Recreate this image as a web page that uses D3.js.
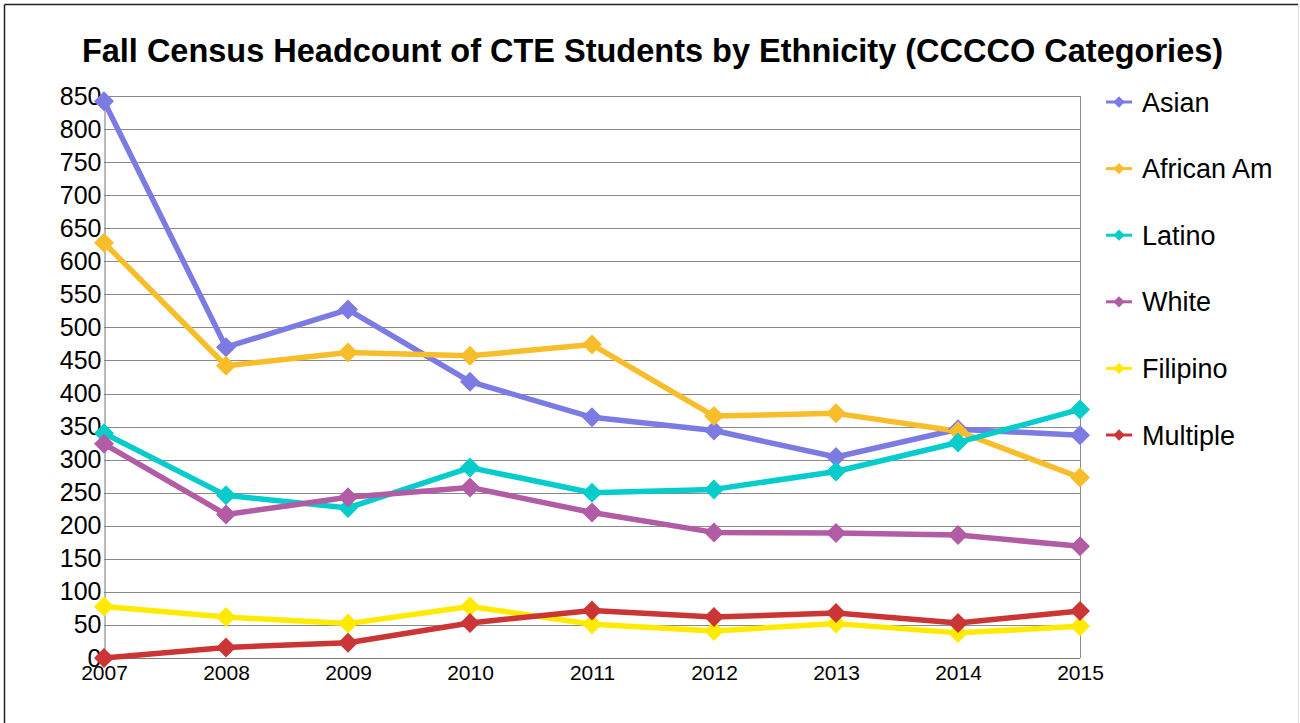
<!DOCTYPE html>
<html>
<head>
<meta charset="utf-8">
<script src="https://cdn.jsdelivr.net/npm/d3@7"></script>
<style>
  html, body { margin: 0; padding: 0; background: #fff; }
  svg { display: block; }
  text { font-family: "Liberation Sans", Arial, sans-serif; }
</style>
</head>
<body>
<svg id="chart" width="1300" height="723"></svg>
<script>
const years = ["2007","2008","2009","2010","2011","2012","2013","2014","2015"];
const yTicks = [0,50,100,150,200,250,300,350,400,450,500,550,600,650,700,750,800,850];
const seriesNames = ["Asian","African Am","Latino","White","Filipino","Multiple"];
const seriesColors = ["#7b7be3","#f8bd2b","#06cccc","#b25ca6","#ffea00","#cc3535"];
const asian     = [842, 470, 527, 418, 364, 344, 304, 346, 337];
const africanAm = [628, 442, 462, 457, 474, 366, 370, 343, 273];
const latino    = [340, 246, 227, 288, 250, 255, 282, 326, 376];
const white     = [324, 217, 243, 258, 220, 190, 189, 186, 169];
const filipino  = [78, 62, 52, 78, 51, 41, 52, 38, 48];
const multiple  = [0, 16, 23, 53, 72, 62, 68, 53, 71];
const seriesValues = [asian, africanAm, latino, white, filipino, multiple];

(function () {
const svg = d3.select("#chart");
const pLeft = 104, pRight = 1080, pTop = 96, pBottom = 658;

// outer frame
svg.append("line").attr("x1",4.5).attr("y1",4.5).attr("x2",1298).attr("y2",4.5).attr("stroke","#222").attr("stroke-width",1.5);
svg.append("line").attr("x1",4.5).attr("y1",4.5).attr("x2",4.5).attr("y2",723).attr("stroke","#222").attr("stroke-width",1.5);
svg.append("line").attr("x1",1298.5).attr("y1",4.5).attr("x2",1298.5).attr("y2",723).attr("stroke","#ddd").attr("stroke-width",1);

const x = d3.scalePoint().domain(years).range([pLeft, pRight]);
const y = d3.scaleLinear().domain([0, 850]).range([pBottom, pTop]);

// gridlines
svg.append("g").selectAll("line").data(yTicks).join("line")
  .attr("x1", pLeft).attr("x2", pRight)
  .attr("y1", d => Math.round(y(d)) + 0.5).attr("y2", d => Math.round(y(d)) + 0.5)
  .attr("stroke", "#8a8a8a").attr("stroke-width", 1);

// right border of plot
svg.append("line").attr("x1", pRight + 0.5).attr("x2", pRight + 0.5)
  .attr("y1", pTop).attr("y2", pBottom).attr("stroke", "#8a8a8a");

// y axis
const yAxis = svg.append("g").attr("transform", `translate(${pLeft + 0.5},0)`)
  .call(d3.axisLeft(y).tickValues(yTicks).tickSize(0).tickPadding(3).tickFormat(d3.format("d")));
yAxis.select(".domain").attr("stroke", "#777");
yAxis.selectAll("text").attr("font-size", 25).attr("fill", "#000")
  .attr("font-family", "Liberation Sans, Arial, sans-serif");

// x axis
const xAxis = svg.append("g").attr("transform", `translate(0,${pBottom + 0.5})`)
  .call(d3.axisBottom(x).tickSize(0).tickPadding(7));
xAxis.select(".domain").attr("stroke", "#777").attr("d", `M${pLeft},0H${pRight}`);
xAxis.selectAll("text").attr("font-size", 21).attr("fill", "#000")
  .attr("font-family", "Liberation Sans, Arial, sans-serif");

// lines
const line = d3.line().x((d, i) => x(years[i])).y(d => y(d));
seriesValues.forEach((vals, si) => {
  svg.append("path").datum(vals).attr("d", line)
    .attr("fill", "none").attr("stroke", seriesColors[si]).attr("stroke-width", 5.5)
    .attr("stroke-linejoin", "round");
});
// markers
const diamond = d3.symbol().type(d3.symbolSquare).size(200);
seriesValues.forEach((vals, si) => {
  svg.append("g").selectAll("path").data(vals).join("path")
    .attr("d", diamond)
    .attr("transform", (d, i) => `translate(${x(years[i])},${y(d)}) rotate(45)`)
    .attr("fill", seriesColors[si]);
});

// title
svg.append("text").attr("x", 652.5).attr("y", 62).attr("text-anchor", "middle")
  .attr("font-size", 32.5).attr("font-weight", "bold").attr("fill", "#000")
  .text("Fall Census Headcount of CTE Students by Ethnicity (CCCCO Categories)");

// legend
const lg = svg.append("g");
seriesNames.forEach((name, i) => {
  const cy = 102 + i * 66.6;
  lg.append("line").attr("x1", 1106).attr("x2", 1132).attr("y1", cy).attr("y2", cy)
    .attr("stroke", seriesColors[i]).attr("stroke-width", 3);
  lg.append("path").attr("d", d3.symbol().type(d3.symbolSquare).size(64))
    .attr("transform", `translate(1119,${cy}) rotate(45)`).attr("fill", seriesColors[i]);
  lg.append("text").attr("x", 1142).attr("y", cy + 9.5).attr("font-size", 27).attr("fill", "#000")
    .text(name);
});
})();
</script>
</body>
</html>
